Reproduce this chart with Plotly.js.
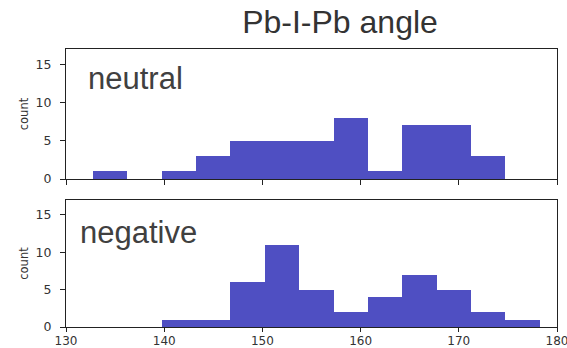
<!DOCTYPE html>
<html><head><meta charset="utf-8">
<script src="https://cdn.plot.ly/plotly-3.0.1.min.js"></script>
<style>html,body{margin:0;padding:0;background:#fff}</style>
</head><body><div id="chart" style="width:567px;height:348px"></div>
<script>
// Histogram bin left edges (degrees) and counts
const binWidth = 3.5;
const neutralEdges = [132.75, 136.25, 139.75, 143.25, 146.75, 150.25, 153.75, 157.25, 160.75, 164.25, 167.75, 171.25];
const neutralCounts = [1, 0, 1, 3, 5, 5, 5, 8, 1, 7, 7, 3];
const negativeEdges = [139.75, 143.25, 146.75, 150.25, 153.75, 157.25, 160.75, 164.25, 167.75, 171.25, 174.75];
const negativeCounts = [1, 1, 6, 11, 5, 2, 4, 7, 5, 2, 1];
const xTicks = [130, 140, 150, 160, 170, 180];
const yTicks = [0, 5, 10, 15];

const barColor = '#4f4fc2';
const H = 348;
function dom(top, bottom){ return [1 - bottom / H, 1 - top / H]; }

const traces = [
  {type:'bar', x: neutralEdges, y: neutralCounts, width: binWidth, offset: 0,
   marker:{color: barColor, line:{width:0}}, xaxis:'x', yaxis:'y'},
  {type:'bar', x: negativeEdges, y: negativeCounts, width: binWidth, offset: 0,
   marker:{color: barColor, line:{width:0}}, xaxis:'x2', yaxis:'y2'}
];

const tickFont = {family:'DejaVu Sans, sans-serif', size:12.5, color:'#333'};
const axBase = {showgrid:false, zeroline:false, showline:true, mirror:true, linecolor:'#222', linewidth:1,
  ticks:'outside', ticklen:5, tickcolor:'#222', tickfont: tickFont};
const yTitle = {text:'count', font:{family:'DejaVu Sans, sans-serif', size:11.5, color:'#333'}, standoff:4};

const layout = {
  width:567, height:348, margin:{l:66, r:10, t:0, b:0},
  paper_bgcolor:'#fff', plot_bgcolor:'#fff', showlegend:false, bargap:0,
  title:{text:'Pb-I-Pb angle', x:340/567, xanchor:'center', y:1-22/H, yanchor:'middle',
    font:{family:'Liberation Sans, Arial, sans-serif', size:32, color:'#333'}},
  xaxis: Object.assign({}, axBase, {domain:[0,1], range:[130,180], tickvals:xTicks, showticklabels:false, anchor:'y'}),
  yaxis: Object.assign({}, axBase, {domain: dom(49,179), range:[0,17], tickvals:yTicks, anchor:'x',
    ticklabelstandoff:6, title: yTitle}),
  xaxis2: Object.assign({}, axBase, {domain:[0,1], range:[130,180], tickvals:xTicks, anchor:'y2',
    ticklen:4, ticklabelstandoff:-1, tickfont:{family:'DejaVu Sans, sans-serif', size:12, color:'#333'},
    ticklabeloverflow:'allow'}),
  yaxis2: Object.assign({}, axBase, {domain: dom(200,327), range:[0,17], tickvals:yTicks, anchor:'x2',
    ticklabelstandoff:6, title: yTitle}),
  annotations:[
    {text:'neutral', xref:'paper', yref:'paper', x:(86-66)/491, y:1-78/H, xanchor:'left', yanchor:'middle', showarrow:false,
     font:{family:'Liberation Sans, Arial, sans-serif', size:31, color:'#404040'}},
    {text:'negative', xref:'paper', yref:'paper', x:(78-66)/491, y:1-232/H, xanchor:'left', yanchor:'middle', showarrow:false,
     font:{family:'Liberation Sans, Arial, sans-serif', size:31, color:'#404040'}}
  ]
};
Plotly.newPlot('chart', traces, layout, {displayModeBar:false, staticPlot:true});
</script></body></html>
